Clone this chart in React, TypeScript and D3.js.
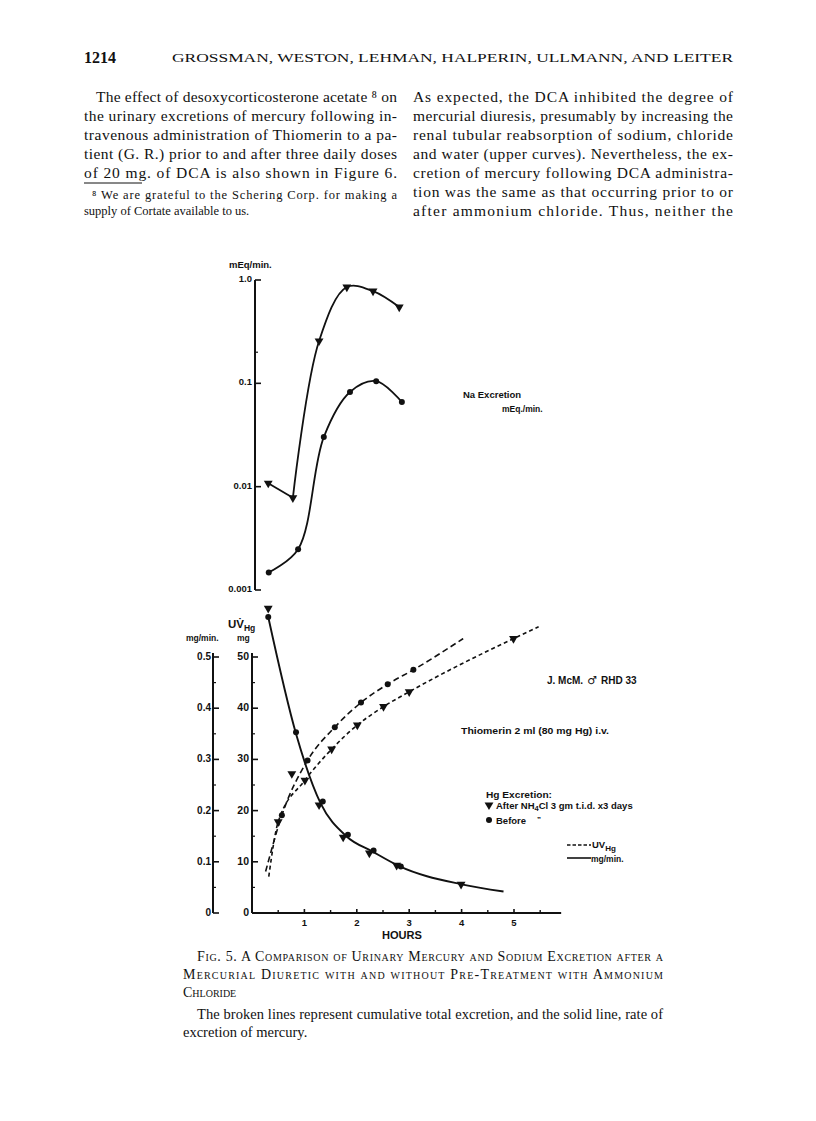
import React, { useRef, useEffect } from "react";
import * as d3 from "d3";

// Na excretion (mEq/min, log scale) - upper panel
const naAfterHours = [0.31, 0.78, 1.28, 1.81, 2.31, 2.81];
const naAfter = [0.0108, 0.0078, 0.257, 0.855, 0.78, 0.547];
const naBeforeHours = [0.32, 0.88, 1.37, 1.87, 2.37, 2.86];
const naBefore = [0.00148, 0.00248, 0.0302, 0.0824, 0.105, 0.066];

// Hg excretion rate (mg/min) - solid curve
const rateAfterHours = [0.31, 1.28, 1.74, 2.24, 2.76, 3.99];
const rateAfter = [0.595, 0.211, 0.148, 0.117, 0.093, 0.056];
const rateBeforeHours = [0.31, 0.84, 1.35, 1.83, 2.32, 2.84];
const rateBefore = [0.578, 0.353, 0.218, 0.153, 0.122, 0.091];
const rateCurveHours = [0.31, 0.84, 1.31, 1.8, 2.3, 2.8, 4.0, 4.8];
const rateCurve = [0.578, 0.35, 0.214, 0.15, 0.12, 0.092, 0.056, 0.042];

// cumulative Hg (UV Hg, mg) - broken curves
const cumAfterHours = [0.5, 0.76, 1.01, 1.52, 2.01, 2.51, 3.0, 4.99];
const cumAfter = [17.8, 27.2, 25.9, 32.0, 36.7, 40.3, 43.2, 53.6];
const cumBeforeHours = [0.57, 1.06, 1.58, 2.08, 2.59, 3.08];
const cumBefore = [19.1, 29.8, 36.3, 41.1, 44.7, 47.5];
const cumAfterCurveHours = [0.32, 0.5, 1.01, 1.52, 2.01, 2.51, 3.0, 4.99, 5.47];
const cumAfterCurve = [7.1, 17.8, 25.9, 32.0, 36.7, 40.3, 43.2, 53.6, 55.9];
const cumBeforeCurveHours = [0.26, 0.57, 1.06, 1.58, 2.08, 2.59, 3.08, 4.03];
const cumBeforeCurve = [8.1, 19.1, 29.8, 36.3, 41.1, 44.7, 47.5, 53.6];

// axis ticks
const logTicks = [1.0, 0.1, 0.01, 0.001];
const logTickLabels = ["1.0", "0.1", "0.01", "0.001"];
const mgTicks = [0, 10, 20, 30, 40, 50];
const rateTicks = [0, 0.1, 0.2, 0.3, 0.4, 0.5];
const rateTickLabels = ["0", "0.1", "0.2", "0.3", "0.4", "0.5"];
const hourTicks = [1, 2, 3, 4, 5];

// page text
const leftCol = [
  "The effect of desoxycorticosterone acetate \u2078 on",
  "the urinary excretions of mercury following in-",
  "travenous administration of Thiomerin to a pa-",
  "tient (G. R.) prior to and after three daily doses",
  "of 20 mg. of DCA is also shown in Figure 6.",
];
const rightCol = [
  "As expected, the DCA inhibited the degree of",
  "mercurial diuresis, presumably by increasing the",
  "renal tubular reabsorption of sodium, chloride",
  "and water (upper curves). Nevertheless, the ex-",
  "cretion of mercury following DCA administra-",
  "tion was the same as that occurring prior to or",
  "after ammonium chloride.  Thus, neither the",
];
const footnote = [
  "\u2078 We are grateful to the Schering Corp. for making a",
  "supply of Cortate available to us.",
];
const captionLines = [
  "Fig. 5.  A Comparison of Urinary Mercury and Sodium Excretion after a",
  "Mercurial Diuretic with and without Pre-Treatment with Ammonium",
  "Chloride",
];
const noteLines = [
  "The broken lines represent cumulative total excretion, and the solid line, rate of",
  "excretion of mercury.",
];

const App = () => {
  const ref = useRef<SVGSVGElement>(null);

  useEffect(() => {
    const ink = "#111";
    const serif = "'Liberation Serif', 'DejaVu Serif', serif";
    const sans = "'Liberation Sans', 'DejaVu Sans', sans-serif";

    const svg = d3.select(ref.current);
    svg.selectAll("*").remove();

    svg.append("rect").attr("width", 816).attr("height", 1121).attr("fill", "#fff");

    // ---------- page header and body text ----------
    svg.append("text").attr("x", 84).attr("y", 63)
      .style("font-family", serif).style("font-size", "16px").style("font-weight", "bold")
      .attr("fill", ink).text("1214");
    svg.append("text").attr("x", 172).attr("y", 62)
      .attr("textLength", 561).attr("lengthAdjust", "spacingAndGlyphs")
      .style("font-family", serif).style("font-size", "11.5px")
      .attr("fill", ink).text("GROSSMAN, WESTON, LEHMAN, HALPERIN, ULLMANN, AND LEITER");

    leftCol.forEach((line, i) => {
      const x0 = i === 0 ? 96 : 84;
      svg.append("text").attr("x", x0).attr("y", 102 + i * 19)
        .attr("textLength", 397 - x0).attr("lengthAdjust", "spacing")
        .style("font-family", serif).style("font-size", "15.5px")
        .attr("fill", ink).text(line);
    });
    rightCol.forEach((line, i) => {
      svg.append("text").attr("x", 413).attr("y", 102 + i * 19)
        .attr("textLength", 320).attr("lengthAdjust", "spacing")
        .style("font-family", serif).style("font-size", "15.5px")
        .attr("fill", ink).text(line);
    });
    svg.append("line").attr("x1", 84).attr("x2", 142).attr("y1", 183).attr("y2", 183)
      .attr("stroke", ink).attr("stroke-width", 1);
    footnote.forEach((line, i) => {
      const t = svg.append("text").attr("x", i === 0 ? 92 : 84).attr("y", 199 + i * 16)
        .style("font-family", serif).style("font-size", "12.5px")
        .attr("fill", ink).text(line);
      if (i === 0) t.attr("textLength", 305).attr("lengthAdjust", "spacing");
    });

    // ---------- scales ----------
    const x = d3.scaleLinear().domain([0, 5]).range([252, 514]);
    const yLog = d3.scaleLog().domain([0.001, 1]).range([590, 280]);
    const yMg = d3.scaleLinear().domain([0, 50]).range([913, 657]);
    const yRate = d3.scaleLinear().domain([0, 0.5]).range([913, 657]);

    const labelStyle = (sel: any, size = 10) =>
      sel.style("font-family", sans).style("font-size", `${size}px`).style("font-weight", "bold").attr("fill", ink);

    const tri = d3.symbol().type(d3.symbolTriangle).size(34);
    const drawTri = (g: any, px: number, py: number) =>
      g.append("path").attr("d", tri()).attr("fill", ink)
        .attr("transform", `translate(${px},${py}) rotate(180)`);
    const drawDot = (g: any, px: number, py: number) =>
      g.append("circle").attr("cx", px).attr("cy", py).attr("r", 3).attr("fill", ink);

    // ---------- upper panel: Na excretion ----------
    const top = svg.append("g");
    const topAxisX = 255;
    top.append("line").attr("x1", topAxisX).attr("x2", topAxisX)
      .attr("y1", yLog(1)).attr("y2", yLog(0.001)).attr("stroke", ink).attr("stroke-width", 2);
    logTicks.forEach((v, i) => {
      top.append("line").attr("x1", topAxisX).attr("x2", topAxisX + 6)
        .attr("y1", yLog(v)).attr("y2", yLog(v)).attr("stroke", ink).attr("stroke-width", 1.6);
      labelStyle(top.append("text").attr("x", topAxisX - 3).attr("y", yLog(v) + 2)
        .attr("text-anchor", "end"), 9.5).text(logTickLabels[i]);
    });
    top.append("line").attr("x1", topAxisX).attr("x2", topAxisX + 3)
      .attr("y1", yLog(0.2)).attr("y2", yLog(0.2)).attr("stroke", ink).attr("stroke-width", 1.2);
    labelStyle(top.append("text").attr("x", 229).attr("y", 268), 9.5).text("mEq/min.");

    const naLine = d3.line<[number, number]>()
      .x(d => x(d[0])).y(d => yLog(d[1]))
      .curve(d3.curveCatmullRom.alpha(0.5));
    const afterPts: [number, number][] = naAfterHours.map((h, i) => [h, naAfter[i]]);
    const beforePts: [number, number][] = naBeforeHours.map((h, i) => [h, naBefore[i]]);
    top.append("path").attr("d", naLine(afterPts.slice(0, 2)))
      .attr("fill", "none").attr("stroke", ink).attr("stroke-width", 1.8);
    top.append("path").attr("d", naLine(afterPts.slice(1)))
      .attr("fill", "none").attr("stroke", ink).attr("stroke-width", 1.8);
    top.append("path").attr("d", naLine(beforePts))
      .attr("fill", "none").attr("stroke", ink).attr("stroke-width", 1.8);
    afterPts.forEach(d => drawTri(top, x(d[0]), yLog(d[1])));
    beforePts.forEach(d => drawDot(top, x(d[0]), yLog(d[1])));

    labelStyle(top.append("text").attr("x", 463).attr("y", 398), 9.5).text("Na Excretion");
    labelStyle(top.append("text").attr("x", 502).attr("y", 412), 8.5).text("mEq./min.");

    // ---------- lower panel: Hg excretion ----------
    const bot = svg.append("g");
    const rateAxisX = 213;
    const mgAxisX = x(0);

    // mg/min axis
    bot.append("line").attr("x1", rateAxisX).attr("x2", rateAxisX)
      .attr("y1", yRate(0.5) - 4).attr("y2", yRate(0)).attr("stroke", ink).attr("stroke-width", 2);
    rateTicks.forEach((v, i) => {
      bot.append("line").attr("x1", rateAxisX).attr("x2", rateAxisX + 6)
        .attr("y1", yRate(v)).attr("y2", yRate(v)).attr("stroke", ink).attr("stroke-width", 1.6);
      labelStyle(bot.append("text").attr("x", rateAxisX - 2).attr("y", yRate(v) + 3)
        .attr("text-anchor", "end"), 10).text(rateTickLabels[i]);
      if (v < 0.5) {
        bot.append("line").attr("x1", rateAxisX).attr("x2", rateAxisX + 3)
          .attr("y1", yRate(v + 0.05)).attr("y2", yRate(v + 0.05)).attr("stroke", ink).attr("stroke-width", 1.2);
      }
    });
    labelStyle(bot.append("text").attr("x", 186).attr("y", 641), 8.5).text("mg/min.");

    // UV Hg axis
    bot.append("line").attr("x1", mgAxisX).attr("x2", mgAxisX)
      .attr("y1", yMg(50) - 4).attr("y2", yMg(0)).attr("stroke", ink).attr("stroke-width", 2);
    mgTicks.forEach(v => {
      bot.append("line").attr("x1", mgAxisX).attr("x2", mgAxisX + 6)
        .attr("y1", yMg(v)).attr("y2", yMg(v)).attr("stroke", ink).attr("stroke-width", 1.6);
      labelStyle(bot.append("text").attr("x", mgAxisX - 3).attr("y", yMg(v) + 3)
        .attr("text-anchor", "end"), 10.5).text(String(v));
      if (v < 50) {
        bot.append("line").attr("x1", mgAxisX).attr("x2", mgAxisX + 3)
          .attr("y1", yMg(v + 5)).attr("y2", yMg(v + 5)).attr("stroke", ink).attr("stroke-width", 1.2);
      }
    });
    const uv = labelStyle(bot.append("text").attr("x", 228).attr("y", 628), 11.5);
    uv.append("tspan").text("UV\u0307");
    uv.append("tspan").attr("dy", 3).style("font-size", "8.5px").text("Hg");
    labelStyle(bot.append("text").attr("x", 237).attr("y", 641), 8.5).text("mg");

    // hours axis
    bot.append("line").attr("x1", mgAxisX).attr("x2", x(5.9))
      .attr("y1", yMg(0)).attr("y2", yMg(0)).attr("stroke", ink).attr("stroke-width", 2);
    hourTicks.forEach(h => {
      bot.append("line").attr("x1", x(h)).attr("x2", x(h))
        .attr("y1", yMg(0) - 4).attr("y2", yMg(0) + 1).attr("stroke", ink).attr("stroke-width", 1.6);
      labelStyle(bot.append("text").attr("x", x(h)).attr("y", yMg(0) + 13)
        .attr("text-anchor", "middle"), 9.5).text(String(h));
    });
    d3.range(0.5, 6, 1).forEach(h => {
      bot.append("line").attr("x1", x(h)).attr("x2", x(h))
        .attr("y1", yMg(0) - 3).attr("y2", yMg(0)).attr("stroke", ink).attr("stroke-width", 1.4);
    });
    labelStyle(bot.append("text").attr("x", 402).attr("y", 939).attr("text-anchor", "middle")
      .attr("textLength", 40).attr("lengthAdjust", "spacingAndGlyphs"), 11).text("HOURS");

    // curves
    const mgLine = d3.line<[number, number]>().x(d => x(d[0])).y(d => yMg(d[1]))
      .curve(d3.curveMonotoneX);
    const rateLine = d3.line<[number, number]>().x(d => x(d[0])).y(d => yRate(d[1]))
      .curve(d3.curveMonotoneX);

    bot.append("path")
      .attr("d", mgLine(cumBeforeCurveHours.map((h, i) => [h, cumBeforeCurve[i]] as [number, number])))
      .attr("fill", "none").attr("stroke", ink).attr("stroke-width", 1.6)
      .attr("stroke-dasharray", "6 3.5");
    bot.append("path")
      .attr("d", mgLine(cumAfterCurveHours.map((h, i) => [h, cumAfterCurve[i]] as [number, number])))
      .attr("fill", "none").attr("stroke", ink).attr("stroke-width", 1.6)
      .attr("stroke-dasharray", "4 3");
    bot.append("path")
      .attr("d", rateLine(rateCurveHours.map((h, i) => [h, rateCurve[i]] as [number, number])))
      .attr("fill", "none").attr("stroke", ink).attr("stroke-width", 1.9);

    cumAfterHours.forEach((h, i) => drawTri(bot, x(h), yMg(cumAfter[i])));
    cumBeforeHours.forEach((h, i) => drawDot(bot, x(h), yMg(cumBefore[i])));
    rateAfterHours.forEach((h, i) => drawTri(bot, x(h), yRate(rateAfter[i])));
    rateBeforeHours.forEach((h, i) => drawDot(bot, x(h), yRate(rateBefore[i])));

    // annotations / legend
    const pt = labelStyle(bot.append("text").attr("x", 547).attr("y", 684), 10);
    pt.append("tspan").text("J. McM.");
    pt.append("tspan").attr("dx", 4).style("font-family", "'DejaVu Sans', sans-serif")
      .style("font-size", "11px").text("\u2642");
    pt.append("tspan").attr("dx", 4).text("RHD  33");
    labelStyle(bot.append("text").attr("x", 461).attr("y", 734)
      .attr("textLength", 148).attr("lengthAdjust", "spacingAndGlyphs"), 9.5)
      .text("Thiomerin   2 ml (80 mg Hg) i.v.");
    labelStyle(bot.append("text").attr("x", 486).attr("y", 798)
      .attr("textLength", 66).attr("lengthAdjust", "spacingAndGlyphs"), 9.5)
      .text("Hg Excretion:");
    drawTri(bot, 489, 805);
    const af = labelStyle(bot.append("text").attr("x", 496).attr("y", 809), 9.5);
    af.append("tspan").text("After  NH");
    af.append("tspan").attr("dy", 2).style("font-size", "7.5px").text("4");
    af.append("tspan").attr("dy", -2).text("Cl  3 gm t.i.d.  x3 days");
    drawDot(bot, 489, 820);
    labelStyle(bot.append("text").attr("x", 496).attr("y", 824), 9.5).text("Before");
    labelStyle(bot.append("text").attr("x", 537).attr("y", 822), 8).text("\u201d");

    bot.append("line").attr("x1", 567).attr("x2", 591).attr("y1", 845).attr("y2", 845)
      .attr("stroke", ink).attr("stroke-width", 1.4).attr("stroke-dasharray", "3.5 2");
    const lg = labelStyle(bot.append("text").attr("x", 592).attr("y", 848), 9.5);
    lg.append("tspan").text("UV");
    lg.append("tspan").attr("dy", 3).style("font-size", "8px").text("Hg");
    bot.append("line").attr("x1", 567).attr("x2", 591).attr("y1", 858).attr("y2", 858)
      .attr("stroke", ink).attr("stroke-width", 1.6);
    labelStyle(bot.append("text").attr("x", 591).attr("y", 862), 8.5).text("mg/min.");

    // ---------- caption ----------
    captionLines.forEach((line, i) => {
      const x0 = i === 0 ? 197 : 183;
      const t = svg.append("text").attr("x", x0).attr("y", 961 + i * 18)
        .style("font-family", serif).style("font-size", "14px").style("font-variant", "small-caps")
        .attr("fill", ink).text(line);
      if (i < 2) t.attr("textLength", 663 - x0).attr("lengthAdjust", "spacing");
    });
    noteLines.forEach((line, i) => {
      const x0 = i === 0 ? 197 : 183;
      const t = svg.append("text").attr("x", x0).attr("y", 1019 + i * 18)
        .style("font-family", serif).style("font-size", "14.5px")
        .attr("fill", ink).text(line);
      if (i === 0) t.attr("textLength", 663 - x0).attr("lengthAdjust", "spacing");
    });
  }, []);

  return (
    <div style={{ position: "absolute", left: 0, top: 0 }}>
      <svg ref={ref} width={816} height={1121} style={{ display: "block" }}></svg>
    </div>
  );
};

export default App;
